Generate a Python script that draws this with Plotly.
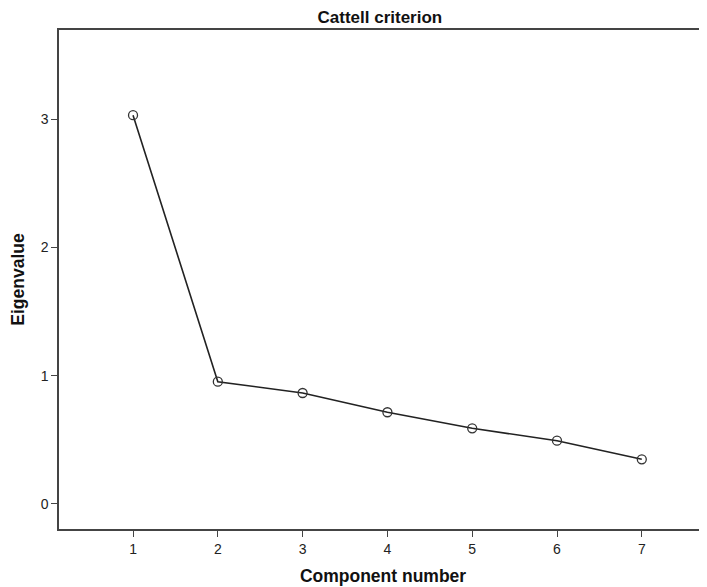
import plotly.graph_objects as go

components = [1, 2, 3, 4, 5, 6, 7]
eigenvalues = [3.03, 0.953, 0.865, 0.715, 0.59, 0.493, 0.348]
x_ticks = [1, 2, 3, 4, 5, 6, 7]
y_ticks = [0, 1, 2, 3]

fig = go.Figure()
fig.add_trace(go.Scatter(
    x=components, y=eigenvalues, mode="lines+markers",
    line=dict(color="#222222", width=1.6),
    marker=dict(symbol="circle-open", size=9, color="#333333", line=dict(width=1.3)),
    showlegend=False, hoverinfo="skip",
))

axis_font = dict(family="Liberation Sans Narrow, Liberation Sans, Arial, sans-serif", size=14, color="#222222")
title_font = dict(family="Liberation Sans, Arial, sans-serif", size=17.5, color="#111111")

fig.update_layout(
    width=699, height=579,
    margin=dict(l=51, r=0, t=22, b=58),
    paper_bgcolor="white", plot_bgcolor="white",
    title=dict(text="<b>Cattell criterion</b>", x=0.532, xanchor="center", y=0.985, yanchor="middle",
               font=dict(family="Liberation Sans, Arial, sans-serif", size=17, color="#111111")),
    xaxis=dict(
        range=[0.127, 7.769], tickvals=x_ticks, ticktext=[str(v) for v in x_ticks],
        showgrid=False, zeroline=False, showline=True, mirror=True,
        linecolor="#444444", linewidth=1.5, ticks="outside", ticklen=6, tickwidth=1.3,
        tickcolor="#444444", tickfont=axis_font,
        title=dict(text="<b>Component number</b>", font=title_font, standoff=14),
    ),
    yaxis=dict(
        range=[-0.195, 3.694], tickvals=y_ticks, ticktext=[str(v) for v in y_ticks],
        showgrid=False, zeroline=False, showline=True, mirror=False,
        linecolor="#444444", linewidth=1.5, ticks="outside", ticklen=6, tickwidth=1.3,
        tickcolor="#444444", tickfont=axis_font,
        title=dict(text="<b>Eigenvalue</b>", font=title_font, standoff=14),
    ),
)

fig.write_html(
    "out.html",
    post_script="document.documentElement.style.overflow='hidden';document.body.style.overflow='hidden';",
)
